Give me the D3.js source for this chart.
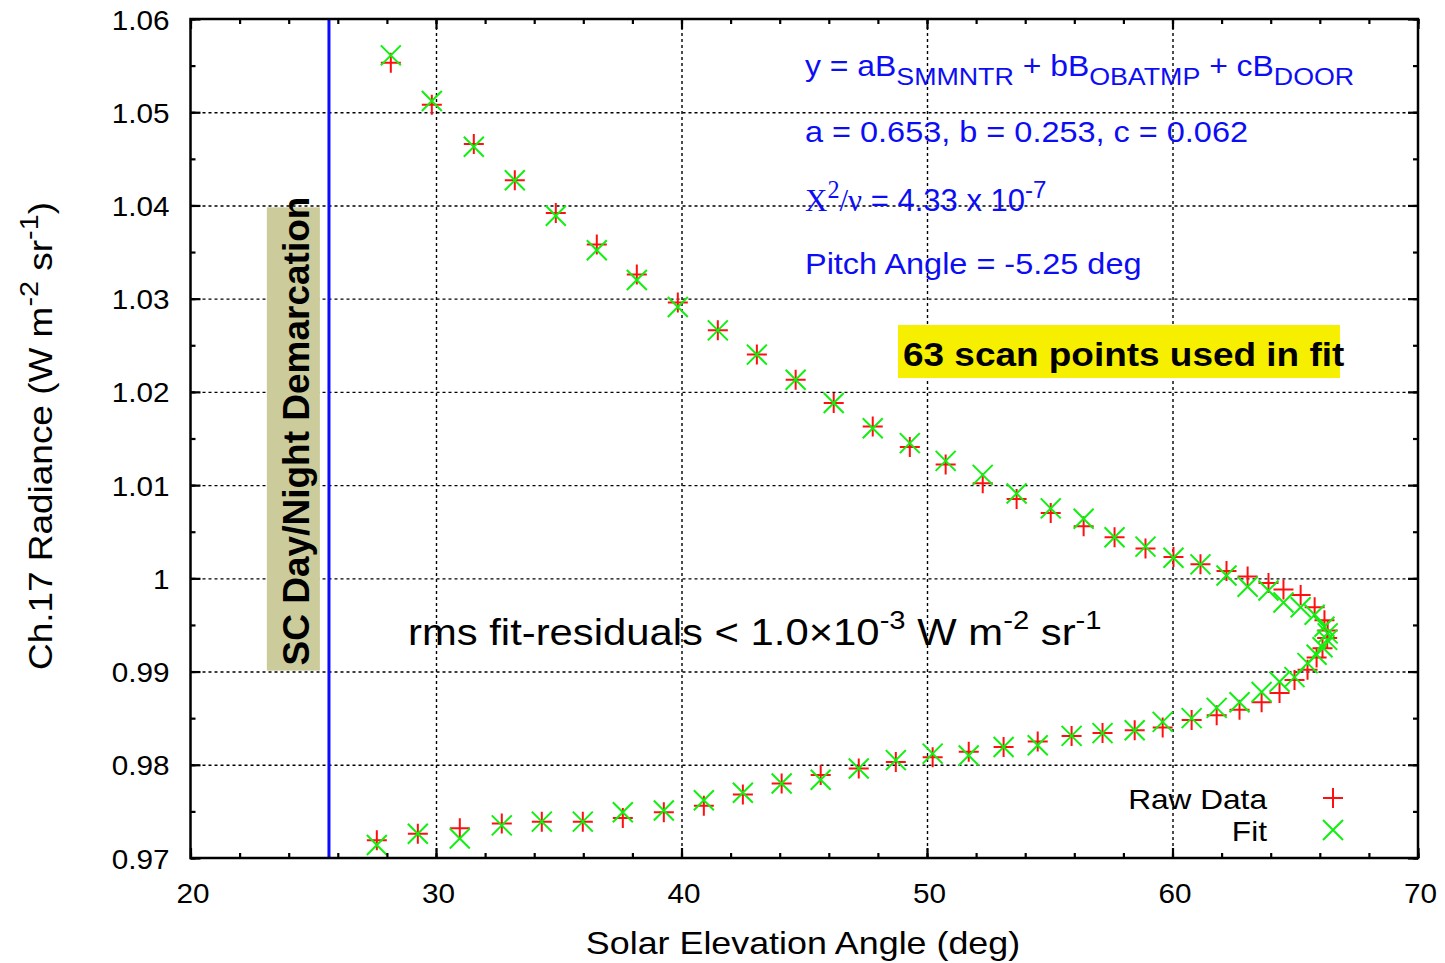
<!DOCTYPE html>
<html>
<head>
<meta charset="utf-8">
<script src="https://cdn.jsdelivr.net/npm/d3@7"></script>
<style>
  body { margin: 0; background: #fff; }
  .grid line { stroke: #000; stroke-width: 1.4; stroke-dasharray: 3,3; }
  .grid path { display: none; }
</style>
</head>
<body>
<script>
const width = 1445,
      height = 963;

// solar elevation angle of each scan point (deg), in scan order
const elevation = [28.16, 29.83, 31.54, 33.21, 34.88, 36.55, 38.18, 39.85, 41.48, 43.07,
  44.65, 46.20, 47.79, 49.30, 50.76, 52.27, 53.65, 55.04, 56.38, 57.64,
  58.90, 60.04, 61.14, 62.20, 63.06, 63.91, 64.52, 65.22, 65.79, 66.19,
  66.32, 66.30,
  66.11, 65.87, 65.50, 64.97, 64.36, 63.63, 62.73, 61.80, 60.78, 59.60,
  58.46, 57.15, 55.89, 54.51, 53.12, 51.70, 50.23, 48.73, 47.22, 45.67,
  44.08, 42.50, 40.91, 39.28, 37.61, 35.98, 34.31, 32.68, 30.97, 29.26, 27.59];

const rawData = [1.0553, 1.0508, 1.0466, 1.0427, 1.0392, 1.0358, 1.0326, 1.0296, 1.0266, 1.0240,
  1.0213, 1.0188, 1.0163, 1.0141, 1.0122, 1.0102, 1.0085, 1.0070, 1.0056, 1.0044,
  1.0032, 1.0023, 1.0015, 1.0008, 1.0002, 0.9995, 0.9988, 0.9982, 0.9969, 0.9955,
  0.9944, 0.9936,
  0.9925, 0.9915, 0.9902, 0.9891, 0.9877, 0.9867, 0.9859, 0.9853, 0.9848, 0.9840,
  0.9837, 0.9834, 0.9831, 0.9825, 0.9819, 0.9814, 0.9808, 0.9803, 0.9796, 0.9789,
  0.9780, 0.9768, 0.9756, 0.9749, 0.9743, 0.9739, 0.9739, 0.9737, 0.9732, 0.9726, 0.9719];

const fitData = [1.0561, 1.0512, 1.0463, 1.0427, 1.0389, 1.0352, 1.0320, 1.0291, 1.0266, 1.0240,
  1.0213, 1.0188, 1.0161, 1.0145, 1.0126, 1.0111, 1.0091, 1.0075, 1.0064, 1.0044,
  1.0034, 1.0022, 1.0015, 1.0003, 0.9991, 0.9987, 0.9974, 0.9969, 0.9961, 0.9948,
  0.9941, 0.9934,
  0.9926, 0.9918, 0.9909, 0.9894, 0.9889, 0.9878, 0.9867, 0.9861, 0.9850, 0.9846,
  0.9837, 0.9834, 0.9831, 0.9821, 0.9819, 0.9810, 0.9812, 0.9805, 0.9796, 0.9784,
  0.9780, 0.9770, 0.9762, 0.9751, 0.9749, 0.9739, 0.9739, 0.9735, 0.9721, 0.9726, 0.9714];

const xTicks = [20, 30, 40, 50, 60, 70];
const xMinor = d3.range(20, 70.1, 2);
const yTicks = [0.97, 0.98, 0.99, 1.00, 1.01, 1.02, 1.03, 1.04, 1.05, 1.06];
const yTickLabels = ["0.97", "0.98", "0.99", "1", "1.01", "1.02", "1.03", "1.04", "1.05", "1.06"];
const yMinor = d3.range(0.97, 1.0601, 0.005);

const demarcation = 25.64;              // day/night line (deg)
const demarcBox = [23.11, 25.27, 0.9901, 1.0398];

const sans = "'Liberation Sans', Arial, Helvetica, sans-serif";
const serif = "'Liberation Serif', 'Times New Roman', serif";
const SX = 1.1;   // the original text is drawn a bit wide

const x = d3.scaleLinear().domain([20, 70]).range([190.5, 1418]);
const y = d3.scaleLinear().domain([0.97, 1.06]).range([858, 19]);
const plotW = x.range()[1] - x.range()[0],
      plotH = y.range()[0] - y.range()[1];

const svg = d3.select("body")
    .append("svg")
    .attr("width", width)
    .attr("height", height)
    .style("font-family", sans);

// grid
svg.append("g")
    .attr("class", "grid")
    .attr("transform", `translate(0,${y(0.97)})`)
    .call(d3.axisBottom(x).tickValues(xTicks.slice(1, -1)).tickSize(-plotH).tickFormat(""));
svg.append("g")
    .attr("class", "grid")
    .attr("transform", `translate(${x(20)},0)`)
    .call(d3.axisLeft(y).tickValues(yTicks.slice(1, -1)).tickSize(-plotW).tickFormat(""));

// tan box + vertical demarcation line
svg.append("rect")
    .attr("x", x(demarcBox[0]))
    .attr("y", y(demarcBox[3]))
    .attr("width", x(demarcBox[1]) - x(demarcBox[0]))
    .attr("height", y(demarcBox[2]) - y(demarcBox[3]))
    .attr("fill", "#cbcb9b");

svg.append("line")
    .attr("x1", x(demarcation)).attr("x2", x(demarcation))
    .attr("y1", y(1.06)).attr("y2", y(0.97))
    .attr("stroke", "#0a0aff")
    .attr("stroke-width", 3);

// text with sub/superscripts, drawn in a local frame (optionally rotated + stretched)
function richText(px, py, segs, o) {
  const g = svg.append("g")
      .attr("transform", `translate(${px},${py}) rotate(${o.rotate || 0}) scale(${o.sx || 1},1)`);
  const t = g.append("text")
      .attr("font-size", o.size)
      .attr("font-weight", o.weight || "normal")
      .attr("fill", o.color || "#000")
      .attr("text-anchor", o.anchor || "start");
  let shift = 0;
  segs.forEach(s => {
    const kind = s[1] || 0;
    const target = kind === 1 ? -0.42 : kind === -1 ? 0.3 : 0;
    const ts = t.append("tspan")
        .text(s[0])
        .attr("font-size", kind ? o.size * (o.small || 0.78) : o.size)
        .attr("dy", (target - shift) * o.size);
    if (s[2]) ts.attr("font-family", s[2]);
    shift = target;
  });
  return t;
}

richText(309, 431, [["SC Day/Night Demarcation"]],
  {size: 37, weight: "bold", rotate: -90, anchor: "middle"});

// markers
const plus = "M-10,0H10M0,-10V10";
const cross = "M-10,-10L10,10M-10,10L10,-10";
const pts = elevation.map((e, i) => ({e: e, raw: rawData[i], fit: fitData[i]}));

svg.append("g").selectAll("path")
    .data(pts)
    .enter().append("path")
    .attr("d", plus)
    .attr("transform", d => `translate(${x(d.e)},${y(d.raw)})`)
    .attr("stroke", "#ff1010")
    .attr("stroke-width", 2)
    .attr("fill", "none");

svg.append("g").selectAll("path")
    .data(pts)
    .enter().append("path")
    .attr("d", cross)
    .attr("transform", d => `translate(${x(d.e)},${y(d.fit)})`)
    .attr("stroke", "#10f010")
    .attr("stroke-width", 2)
    .attr("fill", "none");

// axes, ticks pointing inward on all four sides
function side(axis, tx, ty, vals, size, labels) {
  const g = svg.append("g")
      .attr("transform", `translate(${tx},${ty})`)
      .call(axis.tickValues(vals).tickSize(size).tickFormat(labels || ""));
  g.select(".domain").remove();
  g.selectAll("line").attr("stroke", "#000").attr("stroke-width", 2.2);
  return g;
}
side(d3.axisBottom(x), 0, y(0.97), xMinor, -5);
side(d3.axisTop(x), 0, y(1.06), xMinor, -5);
side(d3.axisLeft(y), x(20), 0, yMinor, -5);
side(d3.axisRight(y), x(70), 0, yMinor, -5);
side(d3.axisTop(x), 0, y(1.06), xTicks, -10);
side(d3.axisRight(y), x(70), 0, yTicks, -10);

const xg = side(d3.axisBottom(x), 0, y(0.97), xTicks, -10, d3.format("d"));
xg.selectAll("text")
    .attr("y", null).attr("dy", null)
    .attr("transform", `translate(2,45) scale(${SX},1)`)
    .attr("font-size", 27).attr("font-family", sans).attr("fill", "#000");

const yg = side(d3.axisLeft(y), x(20), 0, yTicks, -10, (d, i) => yTickLabels[i]);
yg.selectAll("text")
    .attr("x", null).attr("dy", null)
    .attr("transform", `translate(-21,10) scale(${SX},1)`)
    .attr("font-size", 27).attr("font-family", sans).attr("fill", "#000");

svg.append("rect")
    .attr("x", x(20)).attr("y", y(1.06))
    .attr("width", plotW).attr("height", plotH)
    .attr("fill", "none")
    .attr("stroke", "#000")
    .attr("stroke-width", 2.5);

// axis titles
richText(803, 954, [["Solar Elevation Angle (deg)"]], {size: 32, sx: 1.12, anchor: "middle"});
richText(52, 436, [["Ch.17 Radiance (W m"], ["-2", 1], [" sr"], ["-1", 1], [")"]],
  {size: 33, sx: 1.12, rotate: -90, anchor: "middle"});

// fit annotations
const blue = "#0d0df5";
richText(805, 76, [["y = aB"], ["SMMNTR", -1], [" + bB"], ["OBATMP", -1], [" + cB"], ["DOOR", -1]],
  {size: 29, sx: 1.1, color: blue, small: 0.84});
richText(805, 142, [["a = 0.653, b = 0.253, c = 0.062"]], {size: 29, sx: 1.12, color: blue});
richText(805, 211, [["X", 0, serif], ["2", 1, serif], ["/ν", 0, serif], [" = 4.33 x 10"], ["-7", 1]],
  {size: 31, sx: 1.0, color: blue});
richText(805, 274, [["Pitch Angle = -5.25 deg"]], {size: 29, sx: 1.12, color: blue});

svg.append("rect")
    .attr("x", 898).attr("y", 325)
    .attr("width", 442).attr("height", 53)
    .attr("fill", "#f7ef00");
richText(903, 366, [["63 scan points used in fit"]], {size: 33, weight: "bold", sx: 1.12});

richText(408, 645, [["rms fit-residuals < 1.0×10"], ["-3", 1], [" W m"], ["-2", 1], [" sr"], ["-1", 1]],
  {size: 37, sx: 1.13, small: 0.7});

// legend
richText(1267, 809, [["Raw Data"]], {size: 28, sx: 1.13, anchor: "end"});
richText(1267, 841, [["Fit"]], {size: 28, sx: 1.13, anchor: "end"});
svg.append("path").attr("d", plus).attr("transform", "translate(1333,798)")
    .attr("stroke", "#ff1010").attr("stroke-width", 2).attr("fill", "none");
svg.append("path").attr("d", cross).attr("transform", "translate(1333,830)")
    .attr("stroke", "#10f010").attr("stroke-width", 2).attr("fill", "none");
</script>
</body>
</html>
